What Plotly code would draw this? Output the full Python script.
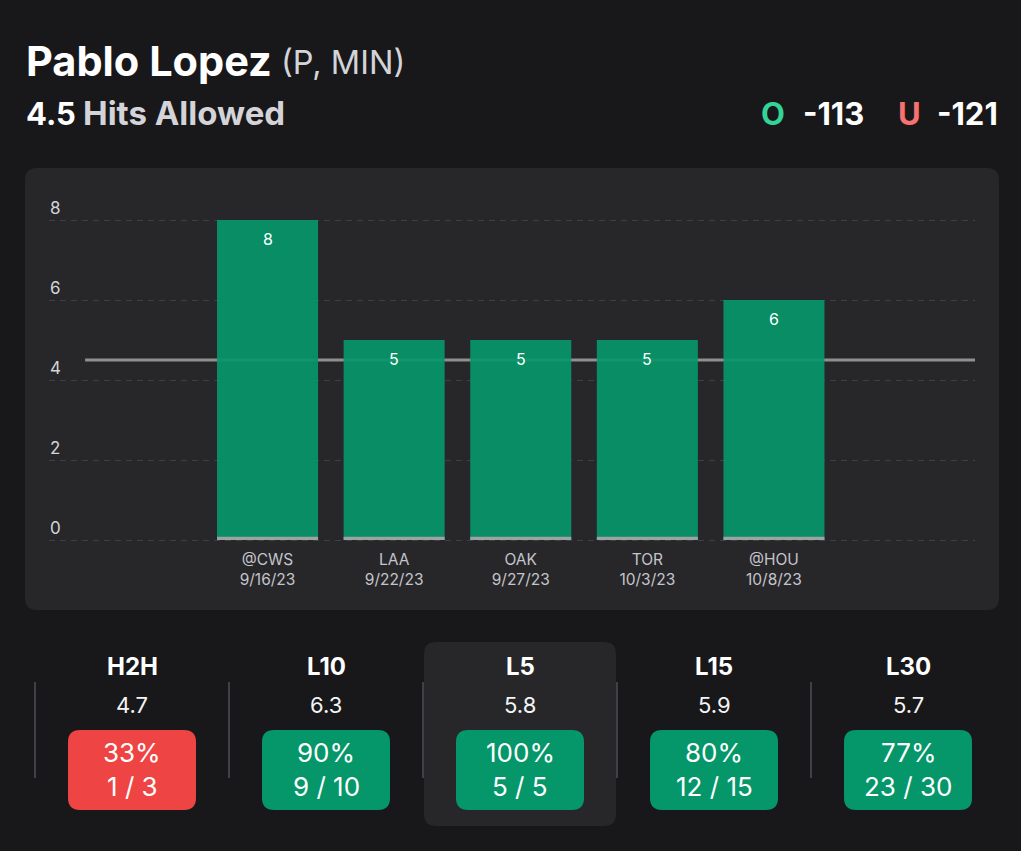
import plotly.graph_objects as go

opponents = ["@CWS", "LAA", "OAK", "TOR", "@HOU"]
dates = ["9/16/23", "9/22/23", "9/27/23", "10/3/23", "10/8/23"]
hits = [8, 5, 5, 5, 6]
strip = [0.08, 0.08, 0.08, 0.08, 0.08]
prop_line = 4.5
y_ticks = [0, 2, 4, 6, 8]
windows = ["H2H", "L10", "L5", "L15", "L30"]
averages = ["4.7", "6.3", "5.8", "5.9", "5.7"]
percents = [33, 90, 100, 80, 77]
records = ["1 / 3", "9 / 10", "5 / 5", "12 / 15", "23 / 30"]
selected = "L5"

W, H = 1021, 851
L, R, T, B = 49, 975, 200, 548
FONT = "Inter"
BG, PANEL = "#18181b", "#27272a"


def fx(p):
    return (p - L) / (R - L)


def fy(p):
    return (B - p) / (B - T)


def rrect(x0, y0, x1, y1, r, color):
    X0, X1, Y0, Y1 = fx(x0), fx(x1), fy(y0), fy(y1)
    rx, ry = r / (R - L), r / (B - T)
    path = (
        f"M{X0 + rx},{Y0} L{X1 - rx},{Y0} Q{X1},{Y0} {X1},{Y0 - ry} "
        f"L{X1},{Y1 + ry} Q{X1},{Y1} {X1 - rx},{Y1} L{X0 + rx},{Y1} "
        f"Q{X0},{Y1} {X0},{Y1 + ry} L{X0},{Y0 - ry} Q{X0},{Y0} {X0 + rx},{Y0} Z"
    )
    return dict(type="path", path=path, xref="paper", yref="paper", fillcolor=color,
                line=dict(width=0), layer="below")


def label(x, y, text, size, color="#ffffff", anchor="center", bold=False):
    return dict(x=fx(x), y=fy(y), xref="paper", yref="paper", text=f"<b>{text}</b>" if bold else text,
                showarrow=False, xanchor=anchor, yanchor="middle", borderpad=0,
                font=dict(family=FONT, size=size, color=color))


xs = list(range(len(hits)))
fig = go.Figure()
fig.add_trace(go.Scatter(x=[-1.441, 5.588], y=[prop_line, prop_line], mode="lines",
                         line=dict(color="#8f8f8f", width=3), hoverinfo="skip", zorder=0))
fig.add_trace(go.Bar(x=xs, y=hits, width=0.798, marker=dict(color="rgba(5,150,105,0.92)", line=dict(width=0)), zorder=1))
fig.add_trace(go.Bar(x=xs, y=strip, width=0.798, marker=dict(color="#9ca3a0", line=dict(width=0)), zorder=2))

shapes = [rrect(25, 168, 999, 610, 12, PANEL), rrect(424, 642, 616, 826, 12, PANEL)]
annotations = [
    label(25, 61, "Pablo Lopez", 41.5, bold=True, anchor="left"),
    label(280, 62, "(P, MIN)", 32.5, color="#d4d4d8", anchor="left"),
    label(25, 113, "4.5", 31, bold=True, anchor="left"),
    label(82, 113, "Hits Allowed", 33, color="#d4d4d8", bold=True, anchor="left"),
    label(773, 113, "O", 31, color="#34d399", bold=True),
    label(865, 113, "-113", 31, bold=True, anchor="right"),
    label(909, 113, "U", 31, color="#f87171", bold=True),
    label(999, 113, "-121", 31, bold=True, anchor="right"),
]
for t in y_ticks:
    annotations.append(dict(x=fx(48), y=t, xref="paper", yref="y", text=str(t), showarrow=False,
                            xanchor="left", yanchor="middle", yshift=12,
                            font=dict(family=FONT, size=17, color="#d4d4d8")))
for x, v in zip(xs, hits):
    annotations.append(dict(x=x, y=v, xref="x", yref="y", text=str(v), showarrow=False,
                            xanchor="center", yanchor="middle", yshift=-19,
                            font=dict(family=FONT, size=16, color="#ffffff")))

for i, name in enumerate(windows):
    cx = 132 + 194 * i
    sx = cx - 97
    shapes.append(dict(type="line", xref="paper", yref="paper", x0=fx(sx), x1=fx(sx), y0=fy(682), y1=fy(778),
                       line=dict(color="#3f3f46", width=2), layer="below"))
    color = "#ef4444" if percents[i] < 50 else "#059669"
    shapes.append(rrect(cx - 64, 730, cx + 64, 810, 12, color))
    annotations += [
        label(cx, 666, name, 24, bold=True),
        label(cx, 705, averages[i], 22, color="#f4f4f5"),
        label(cx, 752, f"{percents[i]}%", 26),
        label(cx, 786, records[i], 26),
    ]

fig.update_layout(
    width=W, height=H, autosize=False, margin=dict(l=L, r=W - R, t=T, b=H - B, pad=0),
    paper_bgcolor=BG, plot_bgcolor="rgba(0,0,0,0)", showlegend=False, barmode="overlay",
    font=dict(family=FONT), shapes=shapes, annotations=annotations,
    xaxis=dict(range=[-1.726, 5.588], tickmode="array", tickvals=xs,
               ticktext=[f"{o}<br>{d}" for o, d in zip(opponents, dates)],
               showgrid=False, zeroline=False, showline=False, ticks="",
               tickfont=dict(family=FONT, size=15.5, color="#c4c4ca")),
    yaxis=dict(range=[-0.2, 8.5], tickmode="array", tickvals=y_ticks, showticklabels=False,
               showgrid=True, gridcolor="#3f3f46", griddash="6px,5px", gridwidth=1,
               zeroline=False, showline=False, ticks=""),
)

fig.write_html("out.html", config=dict(displayModeBar=False),
               post_script="document.body.style.margin='0';document.documentElement.style.overflow='hidden';")
